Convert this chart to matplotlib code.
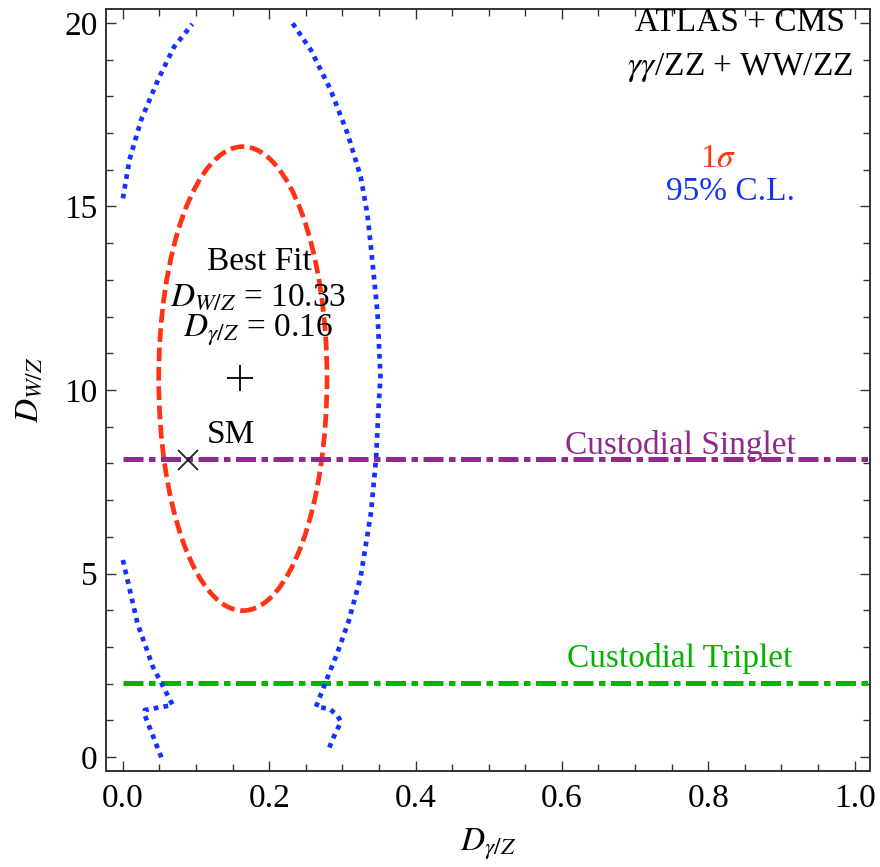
import matplotlib
matplotlib.use("Agg")
import matplotlib.pyplot as plt
from matplotlib.patches import Ellipse
from matplotlib.ticker import MultipleLocator

plt.rcParams['font.family'] = ['Liberation Serif', 'DejaVu Serif']
plt.rcParams['mathtext.fontset'] = 'stix'

# ---- data ----
# 1-sigma contour (ellipse): centre, full width, full height
sigma1_center = (0.164, 10.31)
sigma1_width = 0.230
sigma1_height = 12.64

# 95% C.L. contour pieces
cl95_left_upper_x = [0.000, 0.009, 0.025, 0.048, 0.070, 0.095]
cl95_left_upper_y = [15.22, 16.27, 17.36, 18.45, 19.35, 19.97]

cl95_left_lower_x = [0.000, 0.020, 0.041, 0.068, 0.030, 0.030, 0.054]
cl95_left_lower_y = [5.37, 3.64, 2.46, 1.42, 1.28, 1.14, -0.08]

cl95_right_x = [0.232, 0.257, 0.284, 0.307, 0.325, 0.334, 0.339, 0.348, 0.352,
                0.349, 0.346, 0.339, 0.325, 0.309, 0.293, 0.277, 0.264,
                0.270, 0.282, 0.293, 0.298, 0.286, 0.280]
cl95_right_y = [19.99, 19.26, 18.17, 16.99, 15.81, 14.81, 13.90, 12.10, 10.37,
                9.37, 8.12, 6.65, 4.91, 3.73, 2.83, 2.04, 1.37,
                1.35, 1.32, 1.14, 0.96, 0.46, 0.14]

best_fit = (0.16, 10.33)
sm_point = (0.089, 8.1)

singlet_y = 8.12
triplet_y = 2.01

x_ticks = [0.0, 0.2, 0.4, 0.6, 0.8, 1.0]
x_tick_labels = ['0.0', '0.2', '0.4', '0.6', '0.8', '1.0']
y_ticks = [0, 5, 10, 15, 20]

RED = '#FF3214'
BLUE = '#1432FF'
PURPLE = '#8E2A8E'
GREEN = '#00B400'

fig = plt.figure(figsize=(8.8, 8.67), dpi=100)
ax = fig.add_axes([0.1205, 0.1107, 0.8681, 0.8789])
ax.set_xlim(-0.023, 1.021)
ax.set_ylim(-0.38, 20.38)

lw = 3.4
# horizontal lines
ax.plot([0, 1.021], [singlet_y, singlet_y], color=PURPLE, lw=3.6,
        dashes=(4.0, 1.1, 1.3, 1.1), dash_capstyle='butt')
ax.plot([0, 1.021], [triplet_y, triplet_y], color=GREEN, lw=3.6,
        dashes=(4.0, 1.1, 1.3, 1.1), dash_capstyle='butt')

# 1 sigma ellipse
ell = Ellipse(sigma1_center, sigma1_width, sigma1_height, fill=False,
              edgecolor=RED, lw=lw, linestyle=(0, (2.9, 1.2)))
ax.add_patch(ell)

# 95% CL
for xs, ys in [(cl95_left_upper_x, cl95_left_upper_y),
               (cl95_left_lower_x, cl95_left_lower_y),
               (cl95_right_x, cl95_right_y)]:
    ax.plot(xs, ys, color=BLUE, lw=lw, dashes=(1.0, 1.1), dash_capstyle='butt')

# markers
ax.plot([best_fit[0]], [best_fit[1]], marker='+', ms=19, mew=1.3, color='black', ls='none')
ax.plot([sm_point[0]], [sm_point[1]], marker='x', ms=15, mew=1.3, color='#222222', ls='none')

fs = 24
ax.text(0.187, 13.5, 'Best Fit', ha='center', va='center', fontsize=fs)
ax.text(0.185, 12.54, r'$D_{W/Z}$ = 10.33', ha='center', va='center', fontsize=fs)
ax.text(0.184, 11.63, r'$D_{\gamma/Z}$ = 0.16', ha='center', va='center', fontsize=fs)
ax.text(0.114, 8.77, 'SM', ha='left', va='center', fontsize=fs)

ax.text(0.843, 20.0, 'ATLAS + CMS', ha='center', va='center', fontsize=fs)
ax.text(0.843, 18.8, r'$\gamma\gamma$/ZZ + WW/ZZ', ha='center', va='center', fontsize=fs)
ax.text(0.814, 16.3, r'1$\sigma$', ha='center', va='center', fontsize=fs, color=RED)
ax.text(0.830, 15.4, '95% C.L.', ha='center', va='center', fontsize=fs, color=BLUE)

ax.text(0.762, 8.27, 'Custodial Singlet', ha='center', va='baseline', fontsize=fs, color=PURPLE)
ax.text(0.761, 2.46, 'Custodial Triplet', ha='center', va='baseline', fontsize=fs, color=GREEN)

ax.set_xticks(x_ticks)
ax.set_xticklabels(x_tick_labels)
ax.set_yticks(y_ticks)
ax.xaxis.set_minor_locator(MultipleLocator(0.05))
ax.yaxis.set_minor_locator(MultipleLocator(1))
ax.tick_params(which='both', direction='in', top=True, right=True, labelsize=24,
               color='#333333', width=1.0)
ax.tick_params(which='major', length=7)
ax.tick_params(which='minor', length=5)
ax.tick_params(axis='x', pad=9)
ax.tick_params(axis='y', pad=6)
for s in ax.spines.values():
    s.set_linewidth(1.4)
    s.set_color('#333333')

ax.set_xlabel(r'$D_{\gamma/Z}$', fontsize=24, labelpad=9)
ax.set_ylabel(r'$D_{W/Z}$', fontsize=24, labelpad=14)

fig.savefig('out.png', dpi=100)
